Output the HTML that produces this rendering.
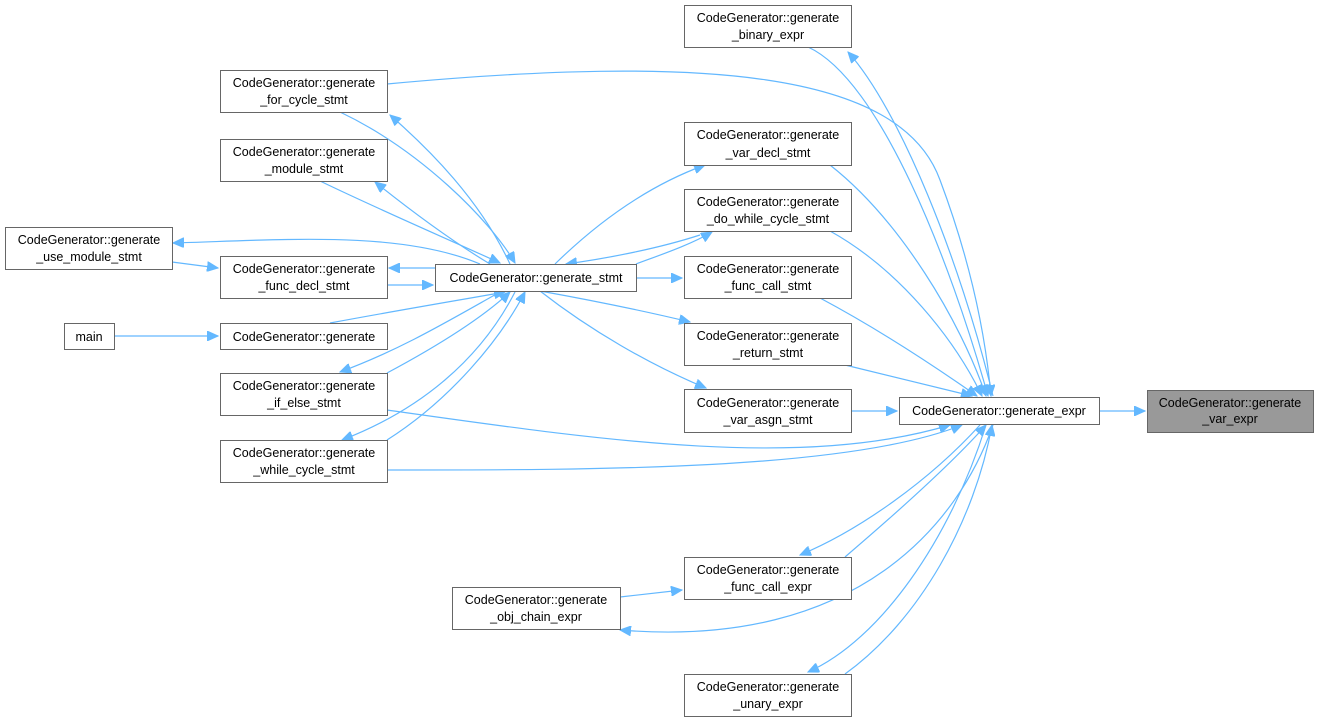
<!DOCTYPE html>
<html><head><meta charset="utf-8"><style>
html,body{margin:0;padding:0;background:#fff;}
svg text{font-family:"Liberation Sans",Arial,sans-serif;font-size:12.5px;fill:#000;}
</style></head><body>
<svg width="1320" height="723" viewBox="0 0 1320 723" xmlns="http://www.w3.org/2000/svg">
<defs>
<marker id="a" markerUnits="userSpaceOnUse" markerWidth="12" markerHeight="10" refX="11" refY="5" orient="auto">
<path d="M0,0 L11,5 L0,10 z" fill="#63b8ff" stroke="#63b8ff"/>
</marker>
</defs>
<g fill="none" stroke="#63b8ff" stroke-width="1.2">
<path d="M1099,411 L1145,411" marker-end="url(#a)"/>
<path d="M808,47 C880,80 950,260 988,396" marker-end="url(#a)"/>
<path d="M993,396 C960,260 900,110 848,52" marker-end="url(#a)"/>
<path d="M387,84 C700,55 900,70 940,180 C970,260 985,330 991,396" marker-end="url(#a)"/>
<path d="M830,165 C900,220 960,320 986,396" marker-end="url(#a)"/>
<path d="M830,231 C900,270 955,340 982,396" marker-end="url(#a)"/>
<path d="M820,298 C880,330 940,370 977,396" marker-end="url(#a)"/>
<path d="M845,365 L972,396" marker-end="url(#a)"/>
<path d="M851,411 L897,411" marker-end="url(#a)"/>
<path d="M387,410 C600,440 800,470 950,425" marker-end="url(#a)"/>
<path d="M387,470 C600,470 850,470 962,425" marker-end="url(#a)"/>
<path d="M845,557 C900,510 955,460 986,425" marker-end="url(#a)"/>
<path d="M980,425 C930,480 860,530 800,555" marker-end="url(#a)"/>
<path d="M993,425 C960,520 860,650 620,630" marker-end="url(#a)"/>
<path d="M620,597 L682,590" marker-end="url(#a)"/>
<path d="M845,674 C920,620 975,520 992,425" marker-end="url(#a)"/>
<path d="M986,425 C950,540 880,640 808,672" marker-end="url(#a)"/>
<path d="M340,112 C420,150 490,220 515,263" marker-end="url(#a)"/>
<path d="M510,264 C480,200 430,150 390,115" marker-end="url(#a)"/>
<path d="M320,181 C380,210 450,240 500,263" marker-end="url(#a)"/>
<path d="M490,264 C450,240 410,210 375,182" marker-end="url(#a)"/>
<path d="M480,264 C400,230 280,240 173,243" marker-end="url(#a)"/>
<path d="M172,262 L218,268" marker-end="url(#a)"/>
<path d="M387,285 L433,285" marker-end="url(#a)"/>
<path d="M435,268 L389,268" marker-end="url(#a)"/>
<path d="M330,323 C400,310 460,300 505,292" marker-end="url(#a)"/>
<path d="M114,336 L218,336" marker-end="url(#a)"/>
<path d="M387,373 C430,350 480,320 510,292" marker-end="url(#a)"/>
<path d="M500,292 C450,320 400,350 340,372" marker-end="url(#a)"/>
<path d="M387,440 C450,400 500,340 525,292" marker-end="url(#a)"/>
<path d="M515,292 C480,360 420,410 342,440" marker-end="url(#a)"/>
<path d="M555,264 C600,220 650,185 705,165" marker-end="url(#a)"/>
<path d="M636,264 C660,255 690,245 712,232" marker-end="url(#a)"/>
<path d="M700,235 C660,248 610,258 566,264" marker-end="url(#a)"/>
<path d="M636,278 L682,278" marker-end="url(#a)"/>
<path d="M540,291 C590,300 640,310 690,322" marker-end="url(#a)"/>
<path d="M540,291 C590,330 650,365 706,388" marker-end="url(#a)"/>
</g>
<g stroke="#666" stroke-width="1" fill="#fff">
<rect x="1147.5" y="390.5" width="166" height="42" fill="#999"/>
<rect x="899.5" y="397.5" width="200" height="27"/>
<rect x="435.5" y="264.5" width="201" height="27"/>
<rect x="684.5" y="5.5" width="167" height="42"/>
<rect x="220.5" y="70.5" width="167" height="42"/>
<rect x="684.5" y="122.5" width="167" height="43"/>
<rect x="220.5" y="139.5" width="167" height="42"/>
<rect x="684.5" y="189.5" width="167" height="42"/>
<rect x="5.5" y="227.5" width="167" height="42"/>
<rect x="220.5" y="256.5" width="167" height="42"/>
<rect x="684.5" y="256.5" width="167" height="42"/>
<rect x="64.5" y="323.5" width="50" height="26"/>
<rect x="220.5" y="323.5" width="167" height="26"/>
<rect x="684.5" y="323.5" width="167" height="42"/>
<rect x="220.5" y="373.5" width="167" height="42"/>
<rect x="684.5" y="389.5" width="167" height="43"/>
<rect x="220.5" y="440.5" width="167" height="42"/>
<rect x="684.5" y="557.5" width="167" height="42"/>
<rect x="452.5" y="587.5" width="168" height="42"/>
<rect x="684.5" y="674.5" width="167" height="42"/>
</g>
<g>
<text x="1230" y="407" text-anchor="middle">CodeGenerator::generate</text><text x="1230" y="423" text-anchor="middle">_var_expr</text>
<text x="999" y="415" text-anchor="middle">CodeGenerator::generate_expr</text>
<text x="536" y="282" text-anchor="middle">CodeGenerator::generate_stmt</text>
<text x="768" y="22" text-anchor="middle">CodeGenerator::generate</text><text x="768" y="39" text-anchor="middle">_binary_expr</text>
<text x="304" y="87" text-anchor="middle">CodeGenerator::generate</text><text x="304" y="104" text-anchor="middle">_for_cycle_stmt</text>
<text x="768" y="139" text-anchor="middle">CodeGenerator::generate</text><text x="768" y="157" text-anchor="middle">_var_decl_stmt</text>
<text x="304" y="156" text-anchor="middle">CodeGenerator::generate</text><text x="304" y="173" text-anchor="middle">_module_stmt</text>
<text x="768" y="206" text-anchor="middle">CodeGenerator::generate</text><text x="768" y="223" text-anchor="middle">_do_while_cycle_stmt</text>
<text x="89" y="244" text-anchor="middle">CodeGenerator::generate</text><text x="89" y="261" text-anchor="middle">_use_module_stmt</text>
<text x="304" y="273" text-anchor="middle">CodeGenerator::generate</text><text x="304" y="290" text-anchor="middle">_func_decl_stmt</text>
<text x="768" y="273" text-anchor="middle">CodeGenerator::generate</text><text x="768" y="290" text-anchor="middle">_func_call_stmt</text>
<text x="89" y="341" text-anchor="middle">main</text>
<text x="304" y="341" text-anchor="middle">CodeGenerator::generate</text>
<text x="768" y="340" text-anchor="middle">CodeGenerator::generate</text><text x="768" y="357" text-anchor="middle">_return_stmt</text>
<text x="304" y="390" text-anchor="middle">CodeGenerator::generate</text><text x="304" y="407" text-anchor="middle">_if_else_stmt</text>
<text x="768" y="407" text-anchor="middle">CodeGenerator::generate</text><text x="768" y="424" text-anchor="middle">_var_asgn_stmt</text>
<text x="304" y="457" text-anchor="middle">CodeGenerator::generate</text><text x="304" y="474" text-anchor="middle">_while_cycle_stmt</text>
<text x="768" y="574" text-anchor="middle">CodeGenerator::generate</text><text x="768" y="591" text-anchor="middle">_func_call_expr</text>
<text x="536" y="604" text-anchor="middle">CodeGenerator::generate</text><text x="536" y="621" text-anchor="middle">_obj_chain_expr</text>
<text x="768" y="691" text-anchor="middle">CodeGenerator::generate</text><text x="768" y="708" text-anchor="middle">_unary_expr</text>
</g>
</svg>
</body></html>
